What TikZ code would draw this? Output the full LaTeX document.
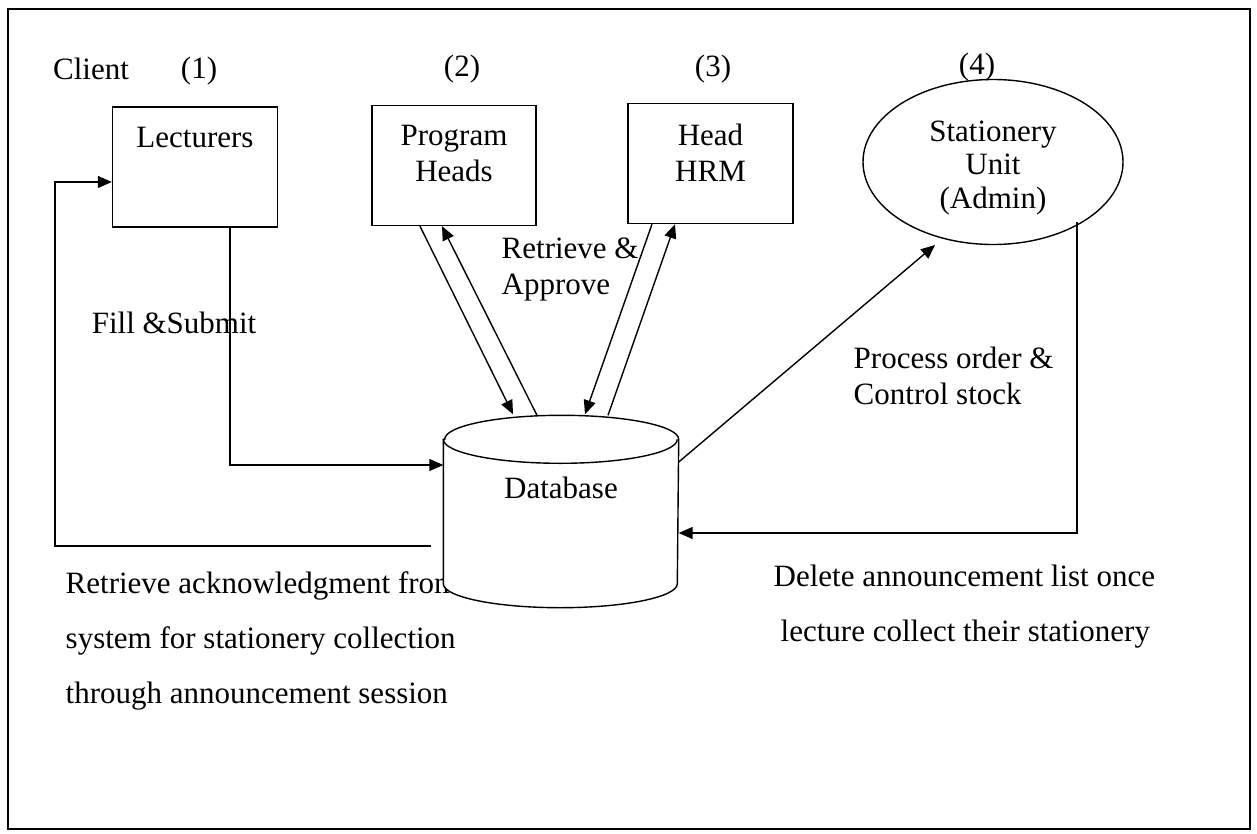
\documentclass[tikz,border=0pt]{standalone}
\usepackage{fontspec}
\setmainfont{Liberation Serif}
\usetikzlibrary{shapes,arrows.meta,positioning,calc}

\begin{document}
\begin{tikzpicture}[x=1pt, y=1pt, line width=1.4pt,
    font=\fontsize{31pt}{36pt}\selectfont,
    unitbox/.style={draw, rectangle, minimum width=165pt, minimum height=120pt, inner sep=0pt},
    boxtext/.style={anchor=north, inner sep=0pt, align=center, yshift=-20pt},
    flow/.style={-{Triangle[length=14pt,width=12pt]}},
    note/.style={anchor=north west, inner sep=0pt, align=left}]
        \useasboundingbox (0,0) rectangle (1257,-834);
        % Frame
        \draw (8,-9) rectangle (1250,-829);

        % Headings
        \node[anchor=base] (client) at (91,-80) {Client};
        \node[anchor=base] (num1) at (199,-79) {(1)};
        \node[anchor=base] (num2) at (462,-77) {(2)};
        \node[anchor=base] (num3) at (713,-77) {(3)};

        % Users
        \node[unitbox] (lect) at (195,-167) {};
        \node[boxtext] (lecttext) at (lect.north) {Lecturers};
        \node[unitbox, minimum width=164pt] (ph) at (454,-165.5) {};
        \node[boxtext] (phtext) at (ph.north) {Program\\Heads};
        \node[unitbox] (hrm) at (710.5,-163.5) {};
        \node[boxtext] (hrmtext) at (hrm.north) {Head\\HRM};
        \node[draw, ellipse, minimum width=260pt, minimum height=165pt, inner sep=0pt] (stu) at (993,-162) {};
        \node[boxtext, yshift=-21pt, font=\fontsize{31pt}{33.5pt}\selectfont] (stutext) at (stu.north)
            {Stationery\\Unit\\(Admin)};
        \node[anchor=base] (num4) at (977,-75) {(4)};

        % Notes
        \node[anchor=base east, inner sep=0pt] (fillnote) at (257,-333) {Fill \&Submit};
        \node[note] (approvenote) at (501,-237) {Retrieve \&\\Approve};
        \node[note] (ordernote) at (853,-346) {Process order \&\\Control stock};
        \node[note, font=\fontsize{31pt}{55pt}\selectfont] (acknote) at (65,-571)
            {Retrieve acknowledgment from\\system for stationery collection\\through announcement session};
        \node[note, font=\fontsize{31pt}{55pt}\selectfont] (deletenote) at (773,-564)
            {Delete announcement list once\\\hspace*{7pt}lecture collect their stationery};

        % Database
        \node[minimum width=234pt, minimum height=191pt, inner sep=0pt] (db) at (561,-511.5) {};
        \draw[fill=white] ([yshift=-24pt]db.north west) -- ([yshift=24pt]db.south west)
            arc[start angle=180, end angle=360, x radius=117pt, y radius=24pt]
            -- ([yshift=-24pt]db.north east)
            arc[start angle=0, end angle=180, x radius=117pt, y radius=24pt] -- cycle;
        \draw ([yshift=-24pt]db.north west)
            arc[start angle=180, end angle=360, x radius=117pt, y radius=24pt];
        \node[anchor=base] (dbtext) at ([yshift=13.5pt]db.center) {Database};

        % Connectors
        \coordinate (ackcorner) at (55,-546);
        \draw[flow] ([xshift=35pt]lect.south) |- ([yshift=46.5pt]db.west);
        \draw[flow, shorten <=12pt] ([yshift=-34.5pt]db.west) -- (ackcorner) |- ([yshift=-15pt]lect.west);
        \draw[flow] ([xshift=-34pt]ph.south) -- ([xshift=-48pt,yshift=1pt]db.north);
        \draw[flow] ([xshift=-24pt]db.north) -- ([xshift=-12pt]ph.south);
        \draw[flow] ([xshift=-58.5pt]hrm.south) -- ([xshift=24pt,yshift=1pt]db.north);
        \draw[flow] ([xshift=47pt]db.north) -- ([xshift=-35.5pt]hrm.south);
        \draw[flow] ([yshift=49.5pt]db.east) -- ([xshift=-58pt,yshift=-83pt]stu.center);
        \draw[flow] ([xshift=84pt,yshift=-60pt]stu.center) |- ([yshift=-21.5pt]db.east);
\end{tikzpicture}
\end{document}
